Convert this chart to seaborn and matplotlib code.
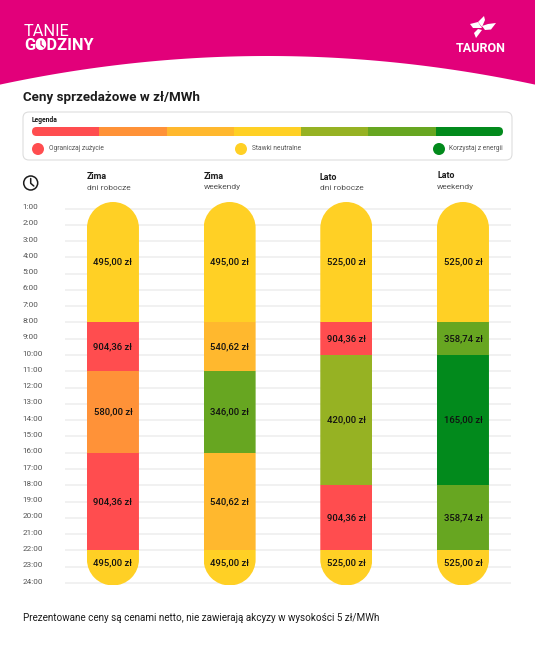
import numpy as np
import pandas as pd
import matplotlib
matplotlib.use('Agg')
import matplotlib.pyplot as plt
from matplotlib.patches import Circle, FancyBboxPatch, Polygon, Rectangle
from matplotlib.path import Path
from matplotlib.transforms import ScaledTranslation
import seaborn as sns

# chart values
seasons = ['Zima', 'Zima', 'Lato', 'Lato']
day_types = ['dni robocze', 'weekendy', 'dni robocze', 'weekendy']
columns = ['Zima dni robocze', 'Zima weekendy', 'Lato dni robocze', 'Lato weekendy']
seg_starts = [[0.6, 8, 11, 16, 22], [0.6, 8, 11, 16, 22], [0.6, 8, 10, 18, 22], [0.6, 8, 10, 18, 22]]
seg_ends = [[8, 11, 16, 22, 24.1], [8, 11, 16, 22, 24.1], [8, 10, 18, 22, 24.1], [8, 10, 18, 22, 24.1]]
seg_prices = [['495,00 zł', '904,36 zł', '580,00 zł', '904,36 zł', '495,00 zł'],
              ['495,00 zł', '540,62 zł', '346,00 zł', '540,62 zł', '495,00 zł'],
              ['525,00 zł', '904,36 zł', '420,00 zł', '904,36 zł', '525,00 zł'],
              ['525,00 zł', '358,74 zł', '165,00 zł', '358,74 zł', '525,00 zł']]
seg_levels = [[3, 0, 1, 0, 3], [3, 2, 5, 2, 3], [3, 0, 4, 0, 3], [3, 5, 6, 5, 3]]
hours = list(range(1, 25))
hour_labels = [f'{h}:00' for h in hours]
scale_colors = ['#FF4D4F', '#FF9238', '#FFB82E', '#FFD025', '#96B223', '#67A621', '#028A1C']
legend_labels = ['Ograniczaj zużycie', 'Stawki neutralne', 'Korzystaj z energii']
legend_levels = [0, 3, 6]

PINK = '#E2007A'
DARK = '#1C1C1C'
GREY = '#555555'

sns.set_theme(style='white')
plt.rcParams['font.family'] = ['Roboto', 'DejaVu Sans']

W, H = 535, 647
fig = plt.figure(figsize=(W / 100, H / 100), dpi=100, facecolor='white')

# page axes in pixels, for everything around the chart
page = fig.add_axes([0, 0, 1, 1], zorder=0)
page.set_xlim(0, W)
page.set_ylim(H, 0)
page.axis('off')

# header band
xs = np.linspace(0, W, 200)
curve = 56 + 28.6 * ((xs - W / 2) / (W / 2)) ** 2
page.fill_between(xs, 0, curve, color=PINK, lw=0)
page.text(24, 36, 'TANIE', color='white', fontsize=11.8, va='baseline')
page.text(24, 50, 'GODZINY', color='white', fontsize=11.8, va='baseline', weight='bold')
page.add_patch(Circle((41, 44.5), 5.2, fc='white', ec='none', zorder=3))
page.plot([41, 41, 43.5], [41, 44.8, 47], color=PINK, lw=0.9, zorder=4)

# logo
petals = [[(484, 16), (478, 22), (482, 27), (485, 20)],
          [(470, 24), (478, 22), (482, 28), (473, 28)],
          [(496, 23), (488, 24), (482, 26), (485, 30), (491, 29.5)],
          [(476, 38), (482, 30), (478, 29), (474, 33)]]
for pts in petals:
    page.add_patch(Polygon(pts, closed=True, fc='white', ec='none'))
page.text(481, 51.5, 'TAURON', color='white', fontsize=9, ha='center', va='baseline', weight='bold')

page.text(23, 101, 'Ceny sprzedażowe w zł/MWh', color=DARK, fontsize=9.65, va='baseline', weight='bold')
page.text(23, 621, 'Prezentowane ceny są cenami netto, nie zawierają akcyzy w wysokości 5 zł/MWh',
          color=DARK, fontsize=7.1, va='baseline')

# legend box
page.add_patch(FancyBboxPatch((23, 112), 489, 48, boxstyle='round,pad=0,rounding_size=6',
                              fc='white', ec='#DDDDDD', lw=0.8))
page.text(32, 120, 'Legenda', color=DARK, fontsize=4.9, va='center', weight='bold')
scale_l, scale_r = 32, 503
step = (scale_r - scale_l) / len(scale_colors)
scale_clip = FancyBboxPatch((scale_l, 127), scale_r - scale_l, 9, boxstyle='round,pad=0,rounding_size=4.5',
                            fc='none', ec='none')
page.add_patch(scale_clip)
for i, c in enumerate(scale_colors):
    r = page.add_patch(Rectangle((scale_l + i * step, 127), step + 0.3, 9, fc=c, ec='none'))
    r.set_clip_path(scale_clip)
for lab, lev, cx, tx in zip(legend_labels, legend_levels, [38, 241, 439], [49, 252, 449]):
    page.add_patch(Circle((cx, 149), 6, fc=scale_colors[lev], ec='none'))
    page.text(tx, 149, lab, color=GREY, fontsize=4.8, va='center')

# clock icon
page.add_patch(Circle((30.7, 183), 7, fc='white', ec=DARK, lw=1.1))
page.plot([30.7, 30.7, 33.8], [178.5, 183.3, 186], color=DARK, lw=1.1)

# column headers
head_x = [87, 204, 320, 437]
head_y = [0, 0, 0.6, -1]
for s, d, x, dy in zip(seasons, day_types, head_x, head_y):
    page.text(x, 176.5 + dy, s, color=DARK, fontsize=6.4, va='center', weight='bold')
    page.text(x, 187.5 + dy, d, color=GREY, fontsize=6, va='center')

# long table of bar segments
df = pd.DataFrame({
    'column': np.repeat(columns, 5),
    'start': np.ravel(seg_starts),
    'end': np.ravel(seg_ends),
    'price': np.ravel(seg_prices),
    'level': np.ravel(seg_levels),
})
df['length'] = df['end'] - df['start']

# chart axes: 1:00 sits at 208.5 px, 24:00 at 583 px, columns 116.7 px apart
px_per_h = (583 - 208.5) / 23
top_px, bot_px = 195, 592
ax = fig.add_axes([65 / W, 1 - bot_px / H, (511 - 65) / W, (bot_px - top_px) / H], zorder=1)
ax.patch.set_alpha(0)

bar_w = 52 / 116.67
for _, row in df.iterrows():
    sns.barplot(x=[row['column']], y=[row['length']], bottom=row['start'], order=columns,
                color=scale_colors[row['level']], saturation=1, width=bar_w, errorbar=None,
                linewidth=0, ax=ax)

ax.set_xlim(-0.411, 3.411)
ax.set_ylim(1 + (bot_px - 208.5) / px_per_h, 1 + (top_px - 208.5) / px_per_h)
ax.set_xticks([])
ax.set_xlabel('')
ax.set_ylabel('')
ax.set_yticks(hours)
ax.set_yticklabels(hour_labels, fontsize=5.9, color=GREY, ha='left')
ax.tick_params(axis='y', length=0, pad=30.5)
ax.set_axisbelow(True)
ax.grid(axis='y', color='#EDEDED', lw=1.1)
sns.despine(ax=ax, left=True, bottom=True)
shift = ScaledTranslation(0, 1.4 / 72, fig.dpi_scale_trans)
for lab in ax.get_yticklabels():
    lab.set_transform(lab.get_transform() + shift)

# round the two ends of every column
def pill(cx, top, bottom, r):
    arc = Path.arc(180, 360)
    up = arc.vertices * r + [cx, top + r]
    down = arc.vertices * r + [cx, bottom - r]
    down[:, 0] = 2 * cx - down[:, 0]
    down[:, 1] = 2 * (bottom - r) - down[:, 1]
    verts = np.vstack([up, down, up[:1]])
    codes = np.concatenate([arc.codes, arc.codes, [Path.CLOSEPOLY]])
    codes[len(arc.codes)] = Path.LINETO
    return Path(verts, codes)

for bar in ax.patches:
    cx = (bar.get_x() + bar.get_width() / 2 + 0.411) * 116.67 + 65
    bar.set_clip_path(pill(cx, 202, 585.5, 26), page.transData)

# price labels
for i, row in df.iterrows():
    col = columns.index(row['column'])
    mid = (row['start'] + row['end']) / 2
    if row['end'] > 24:
        mid = 22.75
    ax.text(col, mid, row['price'], color='#111111', fontsize=6.8, ha='center', va='center', weight='medium')

fig.savefig('out.png', dpi=100)
